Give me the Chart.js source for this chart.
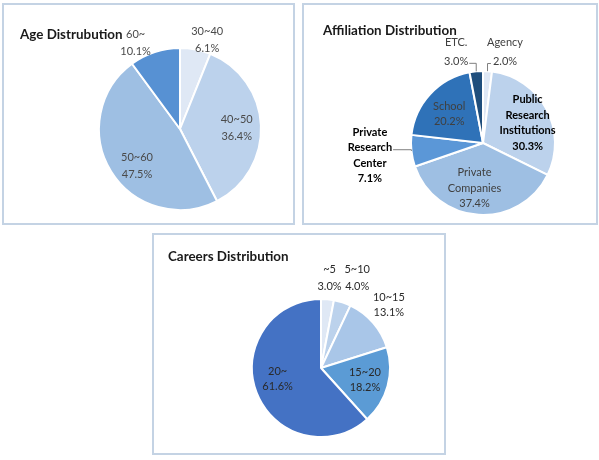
<!DOCTYPE html>
<html lang="en">
<head>
<meta charset="UTF-8">
<title>Distributions</title>
<script src="https://cdn.jsdelivr.net/npm/chart.js"></script>
<style>
  body { margin: 0; background: #fff; width: 599px; height: 460px; position: relative; overflow: hidden; }
  .box { position: absolute; box-sizing: border-box; border: 2px solid #c4d3e4; }
  canvas { position: absolute; }
</style>
</head>
<body>
<div class="box" style="left:2px;top:3px;width:293px;height:222px"></div>
<div class="box" style="left:302px;top:3px;width:296px;height:222px"></div>
<div class="box" style="left:152px;top:233px;width:294px;height:222px"></div>
<canvas id="ageChart" width="293" height="222" style="left:2px;top:3px"></canvas>
<canvas id="affChart" width="296" height="222" style="left:302px;top:3px"></canvas>
<canvas id="careerChart" width="294" height="222" style="left:152px;top:233px"></canvas>

<script>
// data
const ageLabels = ['30~40', '40~50', '50~60', '60~'];
const ageValues = [6.1, 36.4, 47.5, 10.1];

const affLabels = ['Agency', ['Public', 'Research', 'Institutions'], ['Private', 'Companies'], ['Private', 'Research', 'Center'], 'School', 'ETC.'];
const affValues = [2.0, 30.3, 37.4, 7.1, 20.2, 3.0];

const careerLabels = ['~5', '5~10', '10~15', '15~20', '20~'];
const careerValues = [3.0, 4.0, 13.1, 18.2, 61.6];

// colours
const ageColors = ['#dfe8f5', '#bcd2ec', '#9ebfe3', '#5791d3'];
const affColors = ['#dfe8f5', '#bcd2ec', '#9ebfe3', '#5b97d7', '#2f72b8', '#1f4e7c'];
const careerColors = ['#dfe8f5', '#bcd2ec', '#a9c6e8', '#5b9bd5', '#4472c4'];

// label placement: distance as share of radius, angle shift in degrees
const ageLayout = [
    { dist: 1.15, shift: 6 },
    { dist: 0.70, shift: 1.5 },
    { dist: 0.70, shift: -9 },
    { dist: 1.20, shift: -9 }
];
const affLayout = [
    { dist: 1.30, shift: 10, lh: 19, leader: { line: 1, side: 'left' } },
    { dist: 0.68, shift: 4, bold: true },
    { dist: 0.64, shift: 7 },
    { dist: 1.58, shift: 0, bold: true, leader: { line: 1, side: 'right' } },
    { dist: 0.62, shift: -2 },
    { dist: 1.32, shift: -11, lh: 19, leader: { line: 1, side: 'right' } }
];
const careerLayout = [
    { dist: 1.31, shift: 0, lh: 17 },
    { dist: 1.40, shift: 4, lh: 17 },
    { dist: 1.34, shift: -1.6 },
    { dist: 0.66, shift: 0 },
    { dist: 0.65, shift: 6.4 }
];

const FONT = 'Lato, "Open Sans", sans-serif';

const sliceLabels = {
    id: 'sliceLabels',
    afterDatasetsDraw(chart, args, opts) {
        const ctx = chart.ctx;
        const meta = chart.getDatasetMeta(0);
        const values = chart.data.datasets[0].data;
        ctx.save();
        ctx.textBaseline = 'middle';

        // title
        ctx.font = 'bold 13.4px ' + FONT;
        ctx.fillStyle = '#1a1a1a';
        ctx.textAlign = 'left';
        ctx.fillText(opts.title, opts.titleX, opts.titleY);

        meta.data.forEach((arc, i) => {
            const lay = opts.layout[i];
            const cat = chart.data.labels[i];
            const lines = (Array.isArray(cat) ? cat : [cat]).concat(values[i].toFixed(1) + '%');
            const mid = (arc.startAngle + arc.endAngle) / 2;
            const a = mid + lay.shift * Math.PI / 180;
            const d = arc.outerRadius * lay.dist;
            const x = arc.x + Math.cos(a) * d;
            const y = arc.y + Math.sin(a) * d;
            const lh = lay.lh || opts.lineHeight;
            const y0 = y - (lines.length - 1) * lh / 2;

            ctx.font = (lay.bold ? 'bold ' : '') + opts.fontSize + 'px ' + FONT;
            ctx.fillStyle = lay.bold ? '#000' : opts.color;
            ctx.textAlign = 'center';
            lines.forEach((t, k) => ctx.fillText(t, x, y0 + k * lh));

            if (lay.leader) {
                const k = lay.leader.line;
                const w = ctx.measureText(lines[k]).width;
                const ly = y0 + k * lh + 2;
                const ex = arc.x + Math.cos(mid) * arc.outerRadius;
                const ey = arc.y + Math.sin(mid) * arc.outerRadius;
                const tx = lay.leader.side === 'right' ? x + w / 2 + 1 : x - w / 2 - 2;
                ctx.strokeStyle = '#7f7f7f';
                ctx.lineWidth = 1;
                ctx.beginPath();
                ctx.moveTo(ex, ey);
                ctx.lineTo(ex, ly);
                ctx.lineTo(tx, ly);
                ctx.stroke();
            }
        });
        ctx.restore();
    }
};

function makePie(id, labels, values, colors, o) {
    const cv = document.getElementById(id);
    const W = cv.width, H = cv.height;
    new Chart(cv, {
        type: 'pie',
        data: {
            labels: labels,
            datasets: [{
                data: values,
                backgroundColor: colors,
                borderColor: '#fff',
                borderWidth: 2,
                radius: o.r
            }]
        },
        options: {
            responsive: false,
            animation: false,
            layout: {
                padding: { left: o.cx - o.r, right: W - o.cx - o.r, top: o.cy - o.r, bottom: H - o.cy - o.r }
            },
            plugins: {
                legend: { display: false },
                tooltip: { enabled: false },
                sliceLabels: {
                    title: o.title, titleX: o.titleX, titleY: o.titleY,
                    layout: o.layout, fontSize: 11, lineHeight: o.lineHeight,
                    color: o.color || '#404040'
                }
            }
        },
        plugins: [sliceLabels]
    });
}

makePie('ageChart', ageLabels, ageValues, ageColors,
    { cx: 178, cy: 126, r: 81, title: 'Age Distrubution', titleX: 18, titleY: 32, layout: ageLayout, lineHeight: 17, color: '#4a4a4a' });
makePie('affChart', affLabels, affValues, affColors,
    { cx: 181, cy: 140, r: 72, title: 'Affiliation Distribution', titleX: 21, titleY: 28, layout: affLayout, lineHeight: 15.5 });
makePie('careerChart', careerLabels, careerValues, careerColors,
    { cx: 169, cy: 135, r: 69, title: 'Careers Distribution', titleX: 16, titleY: 24, layout: careerLayout, lineHeight: 15, color: '#2a2a2a' });
</script>
</body>
</html>
